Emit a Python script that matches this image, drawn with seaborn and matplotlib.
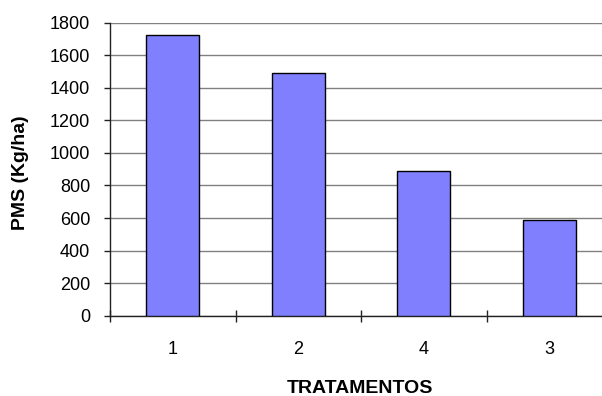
import matplotlib
matplotlib.use("Agg")
import matplotlib.pyplot as plt
import seaborn as sns
import pandas as pd
from matplotlib.ticker import FixedLocator, NullFormatter

categories = ["1", "2", "4", "3"]
values = [1725, 1490, 890, 585]
y_ticks = [0, 200, 400, 600, 800, 1000, 1200, 1400, 1600, 1800]

sns.set_theme(style="white")
plt.rcParams['font.family'] = ['Liberation Sans', 'DejaVu Sans']

df = pd.DataFrame({"trat": categories, "pms": values})

fig = plt.figure(figsize=(6.02, 3.96), dpi=100)
W, H = 602, 396
ax = fig.add_axes([110 / W, (H - 315.7) / H, 502 / W, 293 / H])

sns.barplot(data=df, x="trat", y="pms", order=categories, color="#8080FF",
            saturation=1, width=0.42, edgecolor="black", linewidth=1.0, ax=ax, zorder=3)

ax.set_ylim(0, 1800)
ax.set_xlim(-0.5, len(categories) - 0.5)
ax.set_yticks(y_ticks)
ax.set_yticklabels([str(v) for v in y_ticks])
ax.yaxis.grid(True, color="#808080", linewidth=1.0, zorder=0)
ax.xaxis.grid(False)
ax.set_axisbelow(True)

for s in ["top", "right"]:
    ax.spines[s].set_visible(False)
for s in ["left", "bottom"]:
    ax.spines[s].set_visible(True)
    ax.spines[s].set_color("#222222")
    ax.spines[s].set_linewidth(1.0)

ax.tick_params(axis="y", which="major", direction="out", length=4.3, width=1,
               color="#222222", labelsize=13, pad=10, left=True, labelcolor="black")
ax.tick_params(axis="x", which="major", length=0, labelsize=13, pad=18, labelcolor="black")
ax.xaxis.set_minor_locator(FixedLocator([i - 0.5 for i in range(len(categories) + 1)]))
ax.xaxis.set_minor_formatter(NullFormatter())
ax.tick_params(axis="x", which="minor", direction="inout", length=8.5, width=1,
               color="#222222", bottom=True)

ax.set_xlabel("")
ax.set_ylabel("")
fig.text(359.7 / W, 3.0 / H, "TRATAMENTOS", ha="center", va="baseline",
         fontsize=14, fontweight="bold", color="black")
fig.text(21 / W, 1 - 172.5 / H, "PMS (Kg/ha)", ha="center", va="center",
         rotation=90, fontsize=14, fontweight="bold", color="black")

fig.savefig("out.png", dpi=100)
